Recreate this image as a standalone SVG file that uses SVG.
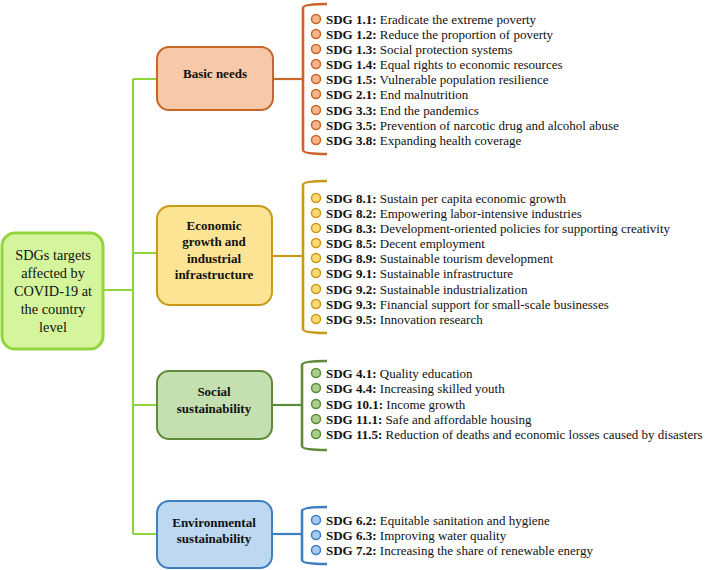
<svg xmlns="http://www.w3.org/2000/svg" width="709" height="570" viewBox="0 0 709 570">
<style>
text{font-family:"Liberation Serif","Times New Roman",serif;fill:#111}
.cat{font-size:13px;font-weight:bold;text-anchor:middle}
.root{font-size:14.3px;text-anchor:middle}
.it{font-size:13px}
.it tspan.b{font-weight:bold}
.con{fill:none;stroke-width:2.2}
.br{fill:none;stroke-width:2.6}
</style>
<rect width="709" height="570" fill="#fff"/>
<g id="connectors">
<path class="con" stroke="#8fd43a" d="M103,290 H133 M133,79 V534 M133,79 H157 M133,253 H157 M133,405 H157 M133,534 H157"/>
<path class="con" stroke="#c8662a" d="M273,79 H303"/>
<path class="con" stroke="#c99a1a" d="M272,256 H303"/>
<path class="con" stroke="#5f8a3a" d="M272,405 H302"/>
<path class="con" stroke="#3f7ebf" d="M272,534 H302"/>
<path class="br" stroke="#c8662a" d="M327,4 Q303,4 303,8 V150 Q303,154 327,154"/>
<path class="br" stroke="#c99a1a" d="M327,181 Q303,181 303,185 V329 Q303,333 327,333"/>
<path class="br" stroke="#5f8a3a" d="M327,361 Q302,361 302,365 V446 Q302,450 327,450"/>
<path class="br" stroke="#3f7ebf" d="M327,507 Q302,507 302,511 V560 Q302,564 327,564"/>
</g>
<g id="root">
<rect x="2" y="233" width="101" height="116" rx="13" fill="#d4f59c" stroke="#93d53c" stroke-width="3"/>
<text class="root" x="53" y="260">SDGs targets</text>
<text class="root" x="53" y="278">affected by</text>
<text class="root" x="53" y="296">COVID-19 at</text>
<text class="root" x="53" y="314">the country</text>
<text class="root" x="53" y="332">level</text>
</g>
<g id="basic">
<rect x="157" y="47" width="116" height="63" rx="12" fill="#f8c9a8" stroke="#c8662a" stroke-width="2"/>
<text class="cat" x="215" y="77.5">Basic needs</text>
</g>
<g id="economic">
<rect x="157" y="206" width="115" height="99" rx="13" fill="#fde394" stroke="#c99a1a" stroke-width="2"/>
<text class="cat" x="214" y="229.5">Economic</text>
<text class="cat" x="214" y="246">growth and</text>
<text class="cat" x="214" y="262.5">industrial</text>
<text class="cat" x="214" y="278.5">infrastructure</text>
</g>
<g id="social">
<rect x="157" y="371" width="115" height="68" rx="12" fill="#c4dfb0" stroke="#5f8a3a" stroke-width="2"/>
<text class="cat" x="214" y="395.5">Social</text>
<text class="cat" x="214" y="412.5">sustainability</text>
</g>
<g id="environmental">
<rect x="157" y="501" width="115" height="67" rx="12" fill="#bdd8f0" stroke="#3f7ebf" stroke-width="2"/>
<text class="cat" x="214" y="526.5">Environmental</text>
<text class="cat" x="214" y="542.5">sustainability</text>
</g>
<g id="basic-items">
<g fill="#f5b48a" stroke="#c8662a" stroke-width="1.5">
<circle cx="316" cy="19" r="4.5"/><circle cx="316" cy="34" r="4.5"/><circle cx="316" cy="49" r="4.5"/><circle cx="316" cy="64" r="4.5"/><circle cx="316" cy="79" r="4.5"/><circle cx="316" cy="94" r="4.5"/><circle cx="316" cy="110" r="4.5"/><circle cx="316" cy="125" r="4.5"/><circle cx="316" cy="140" r="4.5"/>
</g>
<text class="it" x="326" y="23.5"><tspan class="b">SDG 1.1:</tspan> Eradicate the extreme poverty</text>
<text class="it" x="326" y="38.5"><tspan class="b">SDG 1.2:</tspan> Reduce the proportion of poverty</text>
<text class="it" x="326" y="53.5"><tspan class="b">SDG 1.3:</tspan> Social protection systems</text>
<text class="it" x="326" y="68.5"><tspan class="b">SDG 1.4:</tspan> Equal rights to economic resources</text>
<text class="it" x="326" y="83.5"><tspan class="b">SDG 1.5:</tspan> Vulnerable population resilience</text>
<text class="it" x="326" y="98.5"><tspan class="b">SDG 2.1:</tspan> End malnutrition</text>
<text class="it" x="326" y="114.5"><tspan class="b">SDG 3.3:</tspan> End the pandemics</text>
<text class="it" x="326" y="129.5"><tspan class="b">SDG 3.5:</tspan> Prevention of narcotic drug and alcohol abuse</text>
<text class="it" x="326" y="144.5"><tspan class="b">SDG 3.8:</tspan> Expanding health coverage</text>
</g>
<g id="economic-items">
<g fill="#fcd973" stroke="#c99a1a" stroke-width="1.5">
<circle cx="316" cy="198" r="4.5"/><circle cx="316" cy="213" r="4.5"/><circle cx="316" cy="228" r="4.5"/><circle cx="316" cy="243" r="4.5"/><circle cx="316" cy="258" r="4.5"/><circle cx="316" cy="273" r="4.5"/><circle cx="316" cy="289" r="4.5"/><circle cx="316" cy="304" r="4.5"/><circle cx="316" cy="319" r="4.5"/>
</g>
<text class="it" x="326" y="202.5"><tspan class="b">SDG 8.1:</tspan> Sustain per capita economic growth</text>
<text class="it" x="326" y="217.5"><tspan class="b">SDG 8.2:</tspan> Empowering labor-intensive industries</text>
<text class="it" x="326" y="232.5"><tspan class="b">SDG 8.3:</tspan> Development-oriented policies for supporting creativity</text>
<text class="it" x="326" y="247.5"><tspan class="b">SDG 8.5:</tspan> Decent employment</text>
<text class="it" x="326" y="262.5"><tspan class="b">SDG 8.9:</tspan> Sustainable tourism development</text>
<text class="it" x="326" y="277.5"><tspan class="b">SDG 9.1:</tspan> Sustainable infrastructure</text>
<text class="it" x="326" y="293.5"><tspan class="b">SDG 9.2:</tspan> Sustainable industrialization</text>
<text class="it" x="326" y="308.5"><tspan class="b">SDG 9.3:</tspan> Financial support for small-scale businesses</text>
<text class="it" x="326" y="323.5"><tspan class="b">SDG 9.5:</tspan> Innovation research</text>
</g>
<g id="social-items">
<g fill="#a9cf8e" stroke="#5f8a3a" stroke-width="1.5">
<circle cx="316" cy="373" r="4.5"/><circle cx="316" cy="388" r="4.5"/><circle cx="316" cy="404" r="4.5"/><circle cx="316" cy="419" r="4.5"/><circle cx="316" cy="434" r="4.5"/>
</g>
<text class="it" x="326" y="377.5"><tspan class="b">SDG 4.1:</tspan> Quality education</text>
<text class="it" x="326" y="392.5"><tspan class="b">SDG 4.4:</tspan> Increasing skilled youth</text>
<text class="it" x="326" y="408.5"><tspan class="b">SDG 10.1:</tspan> Income growth</text>
<text class="it" x="326" y="423.5"><tspan class="b">SDG 11.1:</tspan> Safe and affordable housing</text>
<text class="it" x="326" y="438.5"><tspan class="b">SDG 11.5:</tspan> Reduction of deaths and economic losses caused by disasters</text>
</g>
<g id="environmental-items">
<g fill="#a6c9ef" stroke="#3f7ebf" stroke-width="1.5">
<circle cx="316" cy="520" r="4.5"/><circle cx="316" cy="535" r="4.5"/><circle cx="316" cy="550" r="4.5"/>
</g>
<text class="it" x="326" y="524.5"><tspan class="b">SDG 6.2:</tspan> Equitable sanitation and hygiene</text>
<text class="it" x="326" y="539.5"><tspan class="b">SDG 6.3:</tspan> Improving water quality</text>
<text class="it" x="326" y="554.5"><tspan class="b">SDG 7.2:</tspan> Increasing the share of renewable energy</text>
</g>
</svg>
